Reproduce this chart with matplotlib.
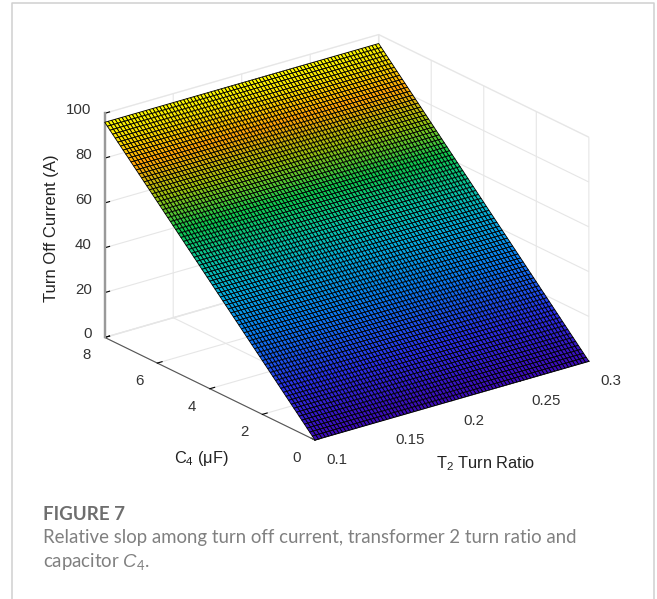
import matplotlib
matplotlib.use('Agg')
import matplotlib.pyplot as plt
from matplotlib.colors import LinearSegmentedColormap
from matplotlib.lines import Line2D
from mpl_toolkits.mplot3d import proj3d
import numpy as np

# surface samples
turn_ratio = [0.1, 0.1025, 0.105, 0.1075, 0.11, 0.1125, 0.115, 0.1175, 0.12, 0.1225, 0.125, 0.1275, 0.13, 0.1325,
              0.135, 0.1375, 0.14, 0.1425, 0.145, 0.1475, 0.15, 0.1525, 0.155, 0.1575, 0.16, 0.1625, 0.165, 0.1675,
              0.17, 0.1725, 0.175, 0.1775, 0.18, 0.1825, 0.185, 0.1875, 0.19, 0.1925, 0.195, 0.1975, 0.2, 0.2025,
              0.205, 0.2075, 0.21, 0.2125, 0.215, 0.2175, 0.22, 0.2225, 0.225, 0.2275, 0.23, 0.2325, 0.235, 0.2375,
              0.24, 0.2425, 0.245, 0.2475, 0.25, 0.2525, 0.255, 0.2575, 0.26, 0.2625, 0.265, 0.2675, 0.27, 0.2725,
              0.275, 0.2775, 0.28, 0.2825, 0.285, 0.2875, 0.29, 0.2925, 0.295, 0.2975, 0.3]
c4_uF = [0.0, 0.1, 0.2, 0.3, 0.4, 0.5, 0.6, 0.7, 0.8, 0.9, 1.0, 1.1, 1.2, 1.3, 1.4, 1.5, 1.6, 1.7, 1.8, 1.9,
         2.0, 2.1, 2.2, 2.3, 2.4, 2.5, 2.6, 2.7, 2.8, 2.9, 3.0, 3.1, 3.2, 3.3, 3.4, 3.5, 3.6, 3.7, 3.8, 3.9,
         4.0, 4.1, 4.2, 4.3, 4.4, 4.5, 4.6, 4.7, 4.8, 4.9, 5.0, 5.1, 5.2, 5.3, 5.4, 5.5, 5.6, 5.7, 5.8, 5.9,
         6.0, 6.1, 6.2, 6.3, 6.4, 6.5, 6.6, 6.7, 6.8, 6.9, 7.0, 7.1, 7.2, 7.3, 7.4, 7.5, 7.6, 7.7, 7.8, 7.9, 8.0]
turn_off_current = [0.0, 1.2, 2.4, 3.6, 4.8, 6.0, 7.2, 8.4, 9.6, 10.8, 12.0, 13.2, 14.4, 15.6, 16.8, 18.0, 19.2,
                    20.4, 21.6, 22.8, 24.0, 25.2, 26.4, 27.6, 28.8, 30.0, 31.2, 32.4, 33.6, 34.8, 36.0, 37.2, 38.4,
                    39.6, 40.8, 42.0, 43.2, 44.4, 45.6, 46.8, 48.0, 49.2, 50.4, 51.6, 52.8, 54.0, 55.2, 56.4, 57.6,
                    58.8, 60.0, 61.2, 62.4, 63.6, 64.8, 66.0, 67.2, 68.4, 69.6, 70.8, 72.0, 73.2, 74.4, 75.6, 76.8,
                    78.0, 79.2, 80.4, 81.6, 82.8, 84.0, 85.2, 86.4, 87.6, 88.8, 90.0, 91.2, 92.4, 93.6, 94.8, 96.0]

x_ticks = [0.1, 0.15, 0.2, 0.25, 0.3]
x_tick_labels = ['0.1', '0.15', '0.2', '0.25', '0.3']
y_ticks = [0, 2, 4, 6, 8]
z_ticks = [0, 20, 40, 60, 80, 100]

W, H = 657, 599
plt.rcParams['font.family'] = ['Liberation Sans', 'DejaVu Sans']
plt.rcParams['mathtext.fontset'] = 'custom'
plt.rcParams['mathtext.rm'] = 'Liberation Sans'
plt.rcParams['mathtext.it'] = 'Liberation Sans:italic'
plt.rcParams['mathtext.default'] = 'regular'

cmap = LinearSegmentedColormap.from_list('slope', [
    (0.0, '#3c0cb8'), (0.15, '#2a30e8'), (0.32, '#0a7cf0'), (0.45, '#06acdc'), (0.54, '#08c4a8'),
    (0.65, '#10c850'), (0.76, '#a0c010'), (0.86, '#ffa408'), (0.93, '#f8d800'), (1.0, '#ffff00')])

fig = plt.figure(figsize=(W / 100, H / 100), dpi=100)
ax = fig.add_axes([10.2 / W, 54.1 / H, 1, 1], projection='3d', proj_type='ortho')
ax.patch.set_alpha(0)

X, Y = np.meshgrid(turn_ratio, c4_uF)
Z = np.tile(np.array(turn_off_current).reshape(-1, 1), (1, len(turn_ratio)))
colors = cmap(Z / 96.0)
ax.plot_surface(X, Y, Z, facecolors=colors, rstride=1, cstride=1, edgecolor='#000000', linewidth=0.62,
                antialiased=True, shade=False)

ax.set_xlim(0.1, 0.3, view_margin=0)
ax.set_ylim(0, 8, view_margin=0)
ax.set_zlim(0, 100, view_margin=0)
ax.view_init(elev=22, azim=232.5)
ax.set_box_aspect((1, 1, 0.7), zoom=0.883)

ax.set_xticks(x_ticks)
ax.set_yticks(y_ticks)
ax.set_zticks(z_ticks)
ax.set_xticklabels([])
ax.set_yticklabels([])
ax.set_zticklabels([])

for axis in (ax.xaxis, ax.yaxis, ax.zaxis):
    axis.pane.set_facecolor((1, 1, 1, 0))
    axis.pane.set_edgecolor('#e6e6e6')
    axis._axinfo['grid']['color'] = '#e6e6e6'
    axis._axinfo['grid']['linewidth'] = 0.8
    axis._axinfo['tick']['inward_factor'] = 0.0
    axis._axinfo['tick']['outward_factor'] = 0.22
    axis._axinfo['tick']['linewidth'] = {True: 0.8, False: 0.5}
    axis._axinfo['tick']['color'] = '#666666'
    axis.line.set_color('#555555')
    axis.line.set_linewidth(0.8)
ax.zaxis.line.set_color('#999999')
ax.zaxis.line.set_linewidth(1.6)
# the z spine on the left edge
ax.plot([0.1, 0.1], [8, 8], [0, 100], color='#999999', lw=1.6, zorder=0)

fig.canvas.draw()

def px(x, y, z):
    u, v, _ = proj3d.proj_transform(x, y, z, ax.get_proj())
    p = ax.transData.transform((u, v))
    return p[0] / W, p[1] / H

# tick labels, placed from the projected tick positions
tc = '#333333'
for t, lab in zip(x_ticks, x_tick_labels):
    u, v = px(t, 0, 0)
    fig.text(u + 11.5 / W, v - 20 / H, lab, fontsize=10.8, color=tc, ha='left', va='center')
for t in y_ticks:
    u, v = px(0.1, t, 0)
    fig.text(u - 18 / W, v - 18 / H, str(t), fontsize=10.8, color=tc, ha='center', va='center')
for t in z_ticks:
    u, v = px(0.1, 8, t)
    fig.text(u - 13 / W, v + 3 / H, str(t), fontsize=10.8, color=tc, ha='right', va='center')

fig.text(486 / W, 1 - 464 / H, 'T$_2$ Turn Ratio', fontsize=11.8, color='#222222', ha='center', va='center')
fig.text(201 / W, 1 - 459 / H, 'C$_4$ ($\\mu$F)', fontsize=11.8, color='#222222', ha='center', va='center')
fig.text(52 / W, 1 - 228 / H, 'Turn Off Current (A)', fontsize=12, color='#222222', ha='center', va='center',
         rotation=90)

# card border and caption
border = '#d0d0d0'
fig.add_artist(Line2D([11.5 / W, 11.5 / W, 653.5 / W, 653.5 / W], [0, 1 - 3 / H, 1 - 3 / H, 0], color=border, lw=1.1))
fig.text(43 / W, 1 - 514 / H, 'FIGURE 7', family='Lato', fontweight='bold', fontsize=13.5, color='#6e6e6e',
         ha='left', va='center')
fig.text(43 / W, 1 - 538 / H, 'Relative slop among turn off current, transformer 2 turn ratio and', family='Lato',
         fontsize=13.4, color='#808080', ha='left', va='center')
fig.text(43 / W, 1 - 562 / H, 'capacitor $\\mathit{C}_4$.', family='Lato', fontsize=13.4, color='#808080',
         ha='left', va='center')

fig.savefig('out.png', dpi=100)
